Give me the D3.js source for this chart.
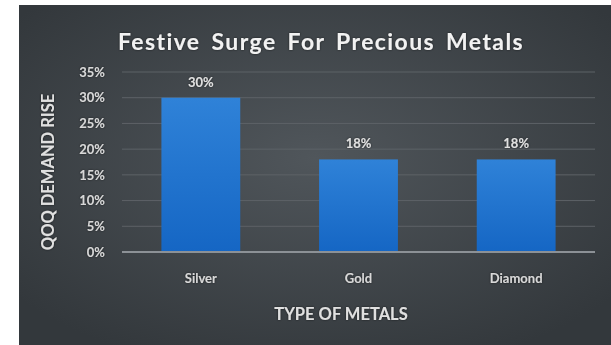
<!DOCTYPE html>
<html lang="en">
<head>
<meta charset="UTF-8">
<title>Festive Surge For Precious Metals</title>
<script src="https://d3js.org/d3.v7.min.js"></script>
<style>
    body { margin: 0; background: #fff; }
    text { font-family: Lato, "Open Sans", sans-serif; font-weight: bold; }
</style>
</head>
<body>
<svg id="chart" width="611" height="345"></svg>
<script>
    const metals = ["Silver", "Gold", "Diamond"];
    const demandRise = [30, 18, 18];
    const yTicks = [0, 5, 10, 15, 20, 25, 30, 35];

    const svg = d3.select("#chart");
    const width = 611, height = 345;
    const margin = { top: 72, right: 16, bottom: 93, left: 122 };

    const defs = svg.append("defs");
    const bg = defs.append("radialGradient").attr("id", "bg")
        .attr("cx", "50%").attr("cy", "45%").attr("r", "65%");
    bg.append("stop").attr("offset", "0%").attr("stop-color", "#50565b");
    bg.append("stop").attr("offset", "100%").attr("stop-color", "#33383c");

    const barGrad = defs.append("linearGradient").attr("id", "bar")
        .attr("x1", 0).attr("y1", 0).attr("x2", 0).attr("y2", 1);
    barGrad.append("stop").attr("offset", "0%").attr("stop-color", "#2f82d8");
    barGrad.append("stop").attr("offset", "100%").attr("stop-color", "#1566c4");

    const glow = defs.append("filter").attr("id", "glow");
    glow.append("feDropShadow").attr("dx", 0).attr("dy", 0)
        .attr("stdDeviation", 1.2).attr("flood-color", "#000").attr("flood-opacity", 0.6);

    // panel
    svg.append("rect").attr("x", 19).attr("y", 5)
        .attr("width", width - 19).attr("height", height - 5)
        .attr("fill", "url(#bg)");

    const x = d3.scaleBand()
        .domain(metals)
        .range([margin.left, width - margin.right])
        .paddingInner(0.5)
        .paddingOuter(0.25);

    const y = d3.scaleLinear()
        .domain([0, 35])
        .range([height - margin.bottom, margin.top]);

    // gridlines
    svg.append("g")
        .selectAll("line")
        .data(yTicks.slice(1))
        .join("line")
        .attr("x1", margin.left).attr("x2", width - margin.right)
        .attr("y1", d => y(d)).attr("y2", d => y(d))
        .attr("stroke", "#5d6267").attr("stroke-width", 1);

    // y axis labels
    const yAxis = d3.axisLeft(y).tickValues(yTicks).tickFormat(d => d + "%").tickSize(0).tickPadding(17);
    const gy = svg.append("g").attr("transform", `translate(${margin.left},0)`).call(yAxis);
    gy.select(".domain").remove();
    gy.selectAll("text").attr("fill", "#d8d8d8").attr("font-size", 13)
        .attr("font-family", "Lato, sans-serif").attr("filter", "url(#glow)");

    // bars
    svg.append("g")
        .selectAll("rect")
        .data(metals)
        .join("rect")
        .attr("x", d => x(d))
        .attr("y", (d, i) => y(demandRise[i]))
        .attr("width", x.bandwidth())
        .attr("height", (d, i) => y(0) - y(demandRise[i]))
        .attr("fill", "url(#bar)");

    // baseline
    svg.append("line")
        .attr("x1", margin.left).attr("x2", width - margin.right)
        .attr("y1", y(0)).attr("y2", y(0))
        .attr("stroke", "#8c9196").attr("stroke-width", 2);

    // value labels
    svg.append("g")
        .selectAll("text")
        .data(metals)
        .join("text")
        .attr("x", d => x(d) + x.bandwidth() / 2)
        .attr("y", (d, i) => y(demandRise[i]) - 11)
        .attr("text-anchor", "middle")
        .attr("fill", "#e0e0e0").attr("font-size", 13)
        .attr("filter", "url(#glow)")
        .text((d, i) => demandRise[i] + "%");

    // category labels
    const xAxis = d3.axisBottom(x).tickSize(0).tickPadding(22);
    const gx = svg.append("g").attr("transform", `translate(0,${y(0)})`).call(xAxis);
    gx.select(".domain").remove();
    gx.selectAll("text").attr("fill", "#d8d8d8").attr("font-size", 13)
        .attr("font-family", "Lato, sans-serif").attr("filter", "url(#glow)");

    // title
    svg.append("text")
        .attr("x", 321).attr("y", 50)
        .attr("text-anchor", "middle")
        .attr("fill", "#f2f2f2").attr("font-size", 23)
        .attr("word-spacing", 4).attr("letter-spacing", 1.4)
        .attr("filter", "url(#glow)")
        .text("Festive Surge For Precious Metals");

    // axis titles
    svg.append("text")
        .attr("x", 341).attr("y", 320)
        .attr("text-anchor", "middle")
        .attr("fill", "#e0e0e0").attr("font-size", 16.5)
        .attr("filter", "url(#glow)")
        .text("TYPE OF METALS");

    svg.append("text")
        .attr("transform", "translate(54,172) rotate(-90)")
        .attr("text-anchor", "middle")
        .attr("fill", "#e0e0e0").attr("font-size", 16.5)
        .attr("filter", "url(#glow)")
        .text("QOQ DEMAND RISE");
</script>
</body>
</html>
